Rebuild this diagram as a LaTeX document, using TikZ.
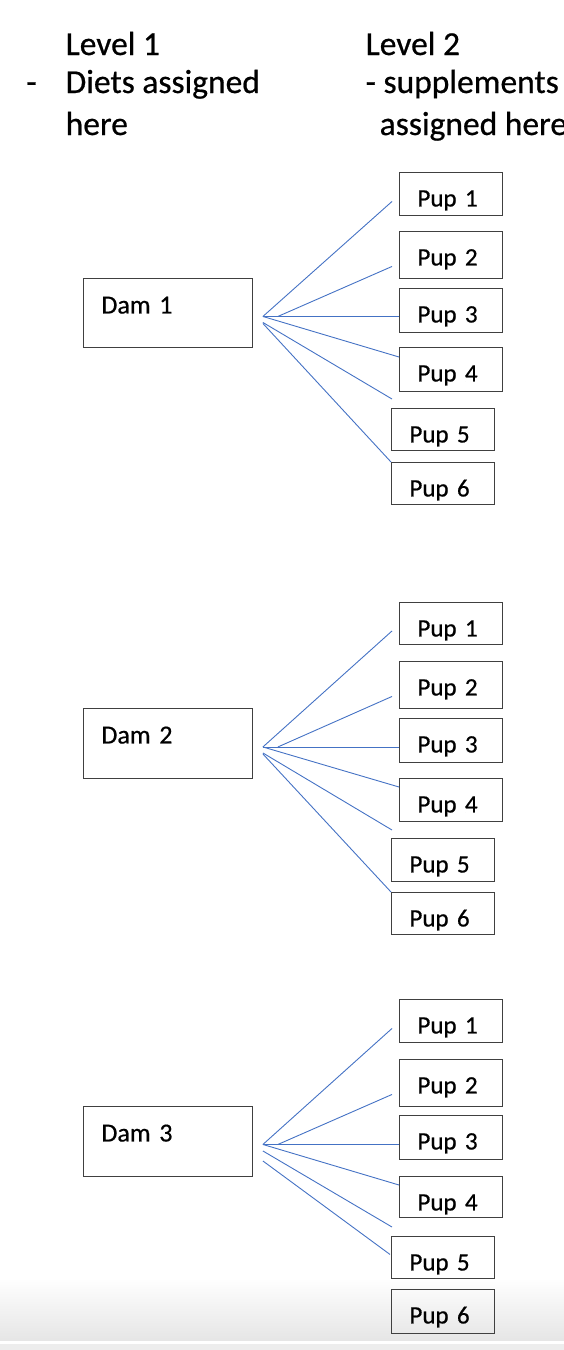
\documentclass[tikz,border=0pt]{standalone}
\usepackage{fontspec}
\setmainfont{Carlito}[FakeBold=0.6]
\definecolor{fanblue}{HTML}{4472C4}
\definecolor{boxgray}{HTML}{404040}
\tikzset{
    headtext/.style = {inner sep = 0, align = left, font = \fontsize{33.5}{38}\selectfont},
    dambox/.style = {draw = boxgray, line width = 0.9pt, anchor = north west, inner xsep = 18pt, inner ysep = 0, align = left,
                     text width = 133pt, text height = 35pt, text depth = #1, font = \fontsize{26}{30}\selectfont},
    pupbox/.style = {draw = boxgray, line width = 0.9pt, anchor = north west, inner xsep = 18pt, inner ysep = 0, align = left,
                     text width = 67pt, text height = 34pt, text depth = #1, font = \fontsize{25}{30}\selectfont},
    fan/.style = {draw = fanblue, line width = 0.9pt}
}
\begin{document}
\begin{tikzpicture}[x = 1pt, y = -1pt]
    \useasboundingbox (0, 0) rectangle (564, 1350);
    % grey band at the foot of the page
    \shade[top color = white, bottom color = black!10] (0, 1278) rectangle (564, 1340);
    \fill[black!7] (0, 1344) rectangle (564, 1350);

    \node[headtext, anchor = base west] (lvlone) at (65.5, 135) {Level 1\\\llap{-\hspace{29pt}}Diets assigned\\[4pt]here};
    \node[headtext, anchor = base west] (lvltwo) at (365.5, 135) {Level 2\\- supplements\\[4pt]\hspace{14pt}assigned here};

    % first dam
    \node[dambox = 34pt] (dam1) at (83, 278) {Dam 1};
    \node[pupbox = 9pt]  (pa1) at (399, 172) {Pup 1};
    \node[pupbox = 13pt] (pa2) at (399, 231) {Pup 2};
    \node[pupbox = 10pt] (pa3) at (399, 288) {Pup 3};
    \node[pupbox = 10pt] (pa4) at (399, 347) {Pup 4};
    \node[pupbox = 8pt]  (pa5) at (391, 408) {Pup 5};
    \node[pupbox = 8pt]  (pa6) at (391, 462) {Pup 6};
    \coordinate (fa) at ([xshift = 10pt, yshift = -3.5pt]dam1.east);
    \draw[fan] (fa) -- ([xshift = -7pt, yshift = -7.5pt]pa1.west);
    \draw[fan] ([xshift = 15pt]fa) -- ([xshift = -7pt, yshift = -11.5pt]pa2.west);
    \draw[fan] (fa) -- (pa3.west |- fa);
    \draw[fan] (fa) -- ([yshift = -10pt]pa4.north west);
    \draw[fan] ([yshift = -6pt]fa) -- ([xshift = 1pt, yshift = 9pt]pa5.north west);
    \draw[fan] ([yshift = -7pt]fa) -- (pa6.north west);

    % second dam
    \node[dambox = 35pt] (dam2) at (83, 708) {Dam 2};
    \node[pupbox = 8pt]  (pb1) at (399, 602) {Pup 1};
    \node[pupbox = 13pt] (pb2) at (399, 661) {Pup 2};
    \node[pupbox = 10pt] (pb3) at (399, 718) {Pup 3};
    \node[pupbox = 9pt]  (pb4) at (399, 778) {Pup 4};
    \node[pupbox = 9pt]  (pb5) at (391, 838) {Pup 5};
    \node[pupbox = 8pt]  (pb6) at (391, 892) {Pup 6};
    \coordinate (fb) at ([xshift = 10pt, yshift = -3.5pt]dam2.east);
    \draw[fan] (fb) -- ([xshift = -7pt, yshift = -7.5pt]pb1.west);
    \draw[fan] ([xshift = 15pt]fb) -- ([xshift = -7pt, yshift = -11.5pt]pb2.west);
    \draw[fan] (fb) -- (pb3.west |- fb);
    \draw[fan] (fb) -- ([yshift = -9pt]pb4.north west);
    \draw[fan] ([yshift = -6pt]fb) -- ([xshift = 1pt, yshift = 8pt]pb5.north west);
    \draw[fan] ([yshift = -7pt]fb) -- (pb6.north west);

    % third dam
    \node[dambox = 35pt] (dam3) at (83, 1106) {Dam 3};
    \node[pupbox = 9pt]  (pc1) at (399, 999) {Pup 1};
    \node[pupbox = 13pt] (pc2) at (399, 1059) {Pup 2};
    \node[pupbox = 10pt] (pc3) at (399, 1115) {Pup 3};
    \node[pupbox = 7pt]  (pc4) at (399, 1176) {Pup 4};
    \node[pupbox = 8pt]  (pc5) at (391, 1236) {Pup 5};
    \node[pupbox = 10pt] (pc6) at (391, 1289) {Pup 6};
    \coordinate (fc) at ([xshift = 10pt, yshift = -3pt]dam3.east);
    \draw[fan] (fc) -- ([xshift = -7pt, yshift = -7.5pt]pc1.west);
    \draw[fan] ([xshift = 15pt]fc) -- ([xshift = -7pt, yshift = -11.5pt]pc2.west);
    \draw[fan] (fc) -- (pc3.west |- fc);
    \draw[fan] (fc) -- ([yshift = -9pt]pc4.north west);
    \draw[fan] ([yshift = -6.5pt]fc) -- ([xshift = 1pt, yshift = 9pt]pc5.north west);
    \draw[fan] ([yshift = -16.5pt]fc) -- ([xshift = -1pt, yshift = 3pt]pc5.west);
\end{tikzpicture}
\end{document}
